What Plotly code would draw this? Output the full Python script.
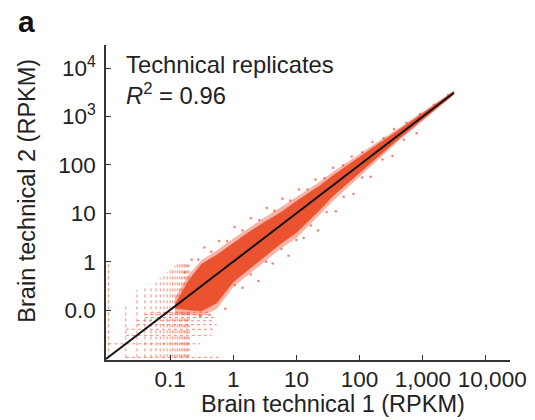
import plotly.graph_objects as go

# ---- data (RPKM) ----
# envelope of the dense point cloud and its lighter halo
cloud_x = [0.12, 0.2, 0.316, 0.55, 1, 1.82, 3.16, 5.5, 10, 23.4, 38, 100, 200, 436, 1000, 2000, 3090]
core_hi = [0.13, 0.42, 0.891, 1.38, 2.4, 4.17, 6.61, 10.2, 17.8, 37.2, 60.3, 148, 275, 550, 1175, 2240, 3310]
core_lo = [0.11, 0.1, 0.095, 0.14, 0.38, 0.724, 1.26, 2.29, 3.98, 11.7, 22.9, 69.2, 151, 363, 871, 1820, 2880]
halo_hi = [0.18, 0.55, 1.08, 1.7, 3.0, 5.2, 8.3, 13.0, 22.0, 45.0, 72.0, 172, 310, 600, 1250, 2360, 3400]
halo_lo = [0.085, 0.08, 0.075, 0.105, 0.3, 0.57, 1.0, 1.8, 3.1, 9.3, 18.0, 58.0, 132, 332, 820, 1720, 2800]

# vertical streaks of low-count genes (discrete x values)
vs_x = [0.0106, 0.02, 0.03, 0.04, 0.05, 0.06, 0.07, 0.08, 0.09, 0.10,
        0.11, 0.12, 0.13, 0.14, 0.15, 0.16, 0.17, 0.18, 0.19, 0.20]
vs_top = [0.9, 0.12, 0.26, 0.28, 0.33, 0.39, 0.46, 0.54, 0.6, 0.7,
          0.76, 0.83, 0.89, 0.95, 1.0, 1.0, 1.0, 1.0, 1.0, 1.0]
vs_bot = [0.0105, 0.0105, 0.0105, 0.0105, 0.0105, 0.0105, 0.0105, 0.0105, 0.0105, 0.0105,
          0.0105, 0.0105, 0.0105, 0.0105, 0.0105, 0.0105, 0.0105, 0.0105, 0.0105, 0.0105]

# horizontal streaks (discrete y values)
hs_y = [0.0105, 0.02, 0.03, 0.04, 0.05, 0.06, 0.07, 0.08, 0.09]
hs_left = [0.02, 0.0106, 0.02, 0.02, 0.03, 0.03, 0.04, 0.04, 0.05]
hs_right = [0.65, 0.3, 0.45, 0.5, 0.55, 0.5, 0.5, 0.45, 0.4]

# scattered outlying genes (above the cloud, then below it)
out_x = [0.17, 0.22, 0.28, 0.35, 0.45, 0.6, 0.8, 1.05, 1.4, 1.9, 2.6, 3.4, 4.5, 6, 8, 11, 15, 20, 28, 38,
         55, 75, 110, 160, 240, 350, 550, 900, 1500, 2500,
         0.3, 0.42, 0.6, 0.75, 1.05, 1.4, 1.9, 2.5, 3.3, 4.2, 5.8, 7.5, 10, 13, 17, 22, 30, 42, 56, 80,
         110, 150, 230, 330, 500, 800]
out_y = [0.6, 1.1, 1.11, 1.97, 1.6, 2.68, 2.65, 5.2, 4.4, 7.9, 7.3, 12.9, 11.3, 19.9, 18.3, 31, 31, 50, 53, 87,
         98, 150, 183, 298, 355, 555, 742, 1133, 1760, 2800,
         0.075, 0.08, 0.17, 0.106, 0.33, 0.29, 0.54, 0.4, 1.0, 0.92, 1.83, 1.33, 2.8, 3.1, 5.6, 4.4, 10.6, 11, 22, 25,
         55, 57, 129, 154, 330, 450]

# identity line
diag = [0.0097, 3100]

x_tickvals = [0.1, 1, 10, 100, 1000, 10000]
x_ticktext = ["0.1", "1", "10", "100", "1,000", "\u00a0\u00a010,000"]
y_tickvals = [0.1, 1, 10, 100, 1000, 10000]
y_ticktext = ["0.0", "1", "10", "100", "10<sup>3</sup>", "10<sup>4</sup>"]

CORE = "#EA5230"
FONT = "Liberation Sans, Arial, Helvetica, sans-serif"
TXT = "#222222"

fig = go.Figure()

# halo
fig.add_trace(go.Scatter(
    x=cloud_x + cloud_x[::-1], y=halo_hi + halo_lo[::-1],
    fill="toself", mode="lines", line=dict(width=0, color="rgba(0,0,0,0)"),
    fillcolor="rgba(236,90,60,0.45)", hoverinfo="skip", showlegend=False))

# streaks
for x, lo, hi in zip(vs_x, vs_bot, vs_top):
    fig.add_trace(go.Scatter(x=[x, x], y=[lo, hi], mode="lines",
                             line=dict(color="rgba(236,88,58,0.7)", width=1, dash="dot"),
                             hoverinfo="skip", showlegend=False))
for y, lo, hi in zip(hs_y, hs_left, hs_right):
    fig.add_trace(go.Scatter(x=[lo, hi], y=[y, y], mode="lines",
                             line=dict(color="rgba(236,88,58,0.7)", width=1, dash="dot"),
                             hoverinfo="skip", showlegend=False))

# core
fig.add_trace(go.Scatter(
    x=cloud_x + cloud_x[::-1], y=core_hi + core_lo[::-1],
    fill="toself", mode="lines", line=dict(width=0.5, color=CORE),
    fillcolor=CORE, hoverinfo="skip", showlegend=False))

# outliers
fig.add_trace(go.Scatter(x=out_x, y=out_y, mode="markers",
                         marker=dict(size=2.5, color="rgba(236,88,58,0.75)"),
                         hoverinfo="skip", showlegend=False))

# diagonal
fig.add_trace(go.Scatter(x=diag, y=diag, mode="lines",
                         line=dict(color="#111111", width=2),
                         hoverinfo="skip", showlegend=False))

axis_common = dict(type="log", showgrid=False, zeroline=False, showline=True,
                   linecolor="#333333", linewidth=1.5, ticks="inside", ticklen=5,
                   tickwidth=1, tickcolor="#333333", mirror=False, automargin=False,
                   tickangle=0, tickfont=dict(family=FONT, size=22.5, color=TXT))

fig.update_xaxes(range=[-2.013, 4.38], tickvals=x_tickvals, ticktext=x_ticktext,
                 ticklabelstandoff=-2, **axis_common)
fig.update_yaxes(range=[-2.033, 4.48], tickvals=y_tickvals, ticktext=y_ticktext,
                 ticklabelstandoff=4, **axis_common)

annos = [
    dict(text="<b>a</b>", x=-0.198, y=1.075, font=dict(size=30, family=FONT, color="#111111"),
         xanchor="center", yanchor="middle"),
    dict(text="Technical replicates", x=0.045, y=0.937, font=dict(size=23.8, family=FONT, color=TXT),
         xanchor="left", yanchor="middle"),
    dict(text="<i>R</i><sup>2</sup> = 0.96", x=0.045, y=0.845, font=dict(size=23.8, family=FONT, color=TXT),
         xanchor="left", yanchor="middle"),
    dict(text="Brain technical 1 (RPKM)", x=0.562, y=-0.14, font=dict(size=23.5, family=FONT, color=TXT),
         xanchor="center", yanchor="middle"),
    dict(text="Brain technical 2 (RPKM)", x=-0.196, y=0.537, textangle=-90,
         font=dict(size=23.5, family=FONT, color=TXT), xanchor="center", yanchor="middle"),
]
for a in annos:
    a.update(xref="paper", yref="paper", showarrow=False)

# the page body adds an 8px margin, so the figure is 8px smaller than the window
fig.update_layout(width=527, height=412, margin=dict(l=98, r=25, t=37, b=60, autoexpand=False),
                  paper_bgcolor="white", plot_bgcolor="white", annotations=annos,
                  showlegend=False)

fig.write_html("out.html")
